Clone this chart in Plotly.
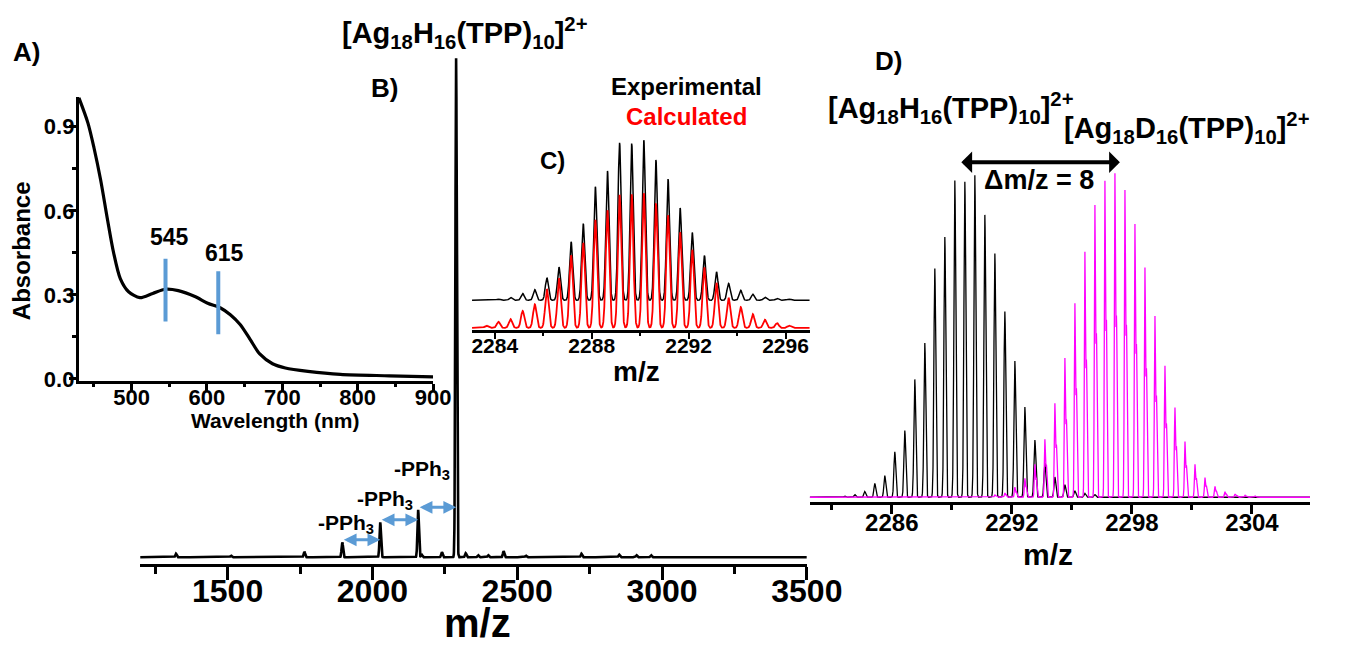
import numpy as np
import plotly.graph_objects as go

W, H = 1346, 659
FONT = "Liberation Sans, Arial, sans-serif"

# ---- A) UV-vis absorption spectrum ----
wavelength_nm = [430, 442, 450, 459, 468, 476, 485, 496, 511, 528, 545, 562, 584,
                 601, 618, 631, 644, 657, 670, 687, 704, 734, 777, 842, 900]
absorbance = [1.004, 0.914, 0.826, 0.709, 0.569, 0.452, 0.358, 0.311, 0.290, 0.305,
              0.320, 0.315, 0.294, 0.270, 0.253, 0.229, 0.194, 0.142, 0.089, 0.054,
              0.039, 0.027, 0.016, 0.011, 0.007]
band_nm = [545, 615]
band_low = [0.205, 0.159]
band_high = [0.429, 0.384]

# ---- B) full-range ESI mass spectrum (relative intensity, %) ----
ms_mz = [1322, 1512, 1765, 1896, 2027, 2158, 2170, 2240, 2289, 2322, 2365, 2400,
         2453, 2530, 2722, 2852, 2912, 2962]
ms_int = [0.7, 0.3, 1.1, 3.0, 7.0, 9.5, 0.5, 1.0, 100.0, 0.8, 0.4, 0.4,
          1.2, 0.3, 0.7, 0.5, 0.4, 0.4]
loss_mz = [1896, 2027, 2158, 2289]
loss_int = [3.0, 7.0, 9.5, 100.0]

# ---- C/D) isotope patterns of the 2+ ion ----
iso_mz_H = [2283.65, 2284.15, 2284.65, 2285.15, 2285.65, 2286.15, 2286.65, 2287.15,
            2287.65, 2288.15, 2288.65, 2289.15, 2289.65, 2290.15, 2290.65, 2291.15,
            2291.65, 2292.15, 2292.65, 2293.15, 2293.65, 2294.15, 2294.65, 2295.15,
            2295.65, 2296.15]
exp_H = [0.4, 0.8, 1.8, 4.3, 6.7, 14.1, 20.7, 36.6, 47.9, 71.0, 80.8, 98.4, 98.0,
         100.0, 87.7, 75.7, 57.7, 42.3, 28.0, 17.8, 10.6, 6.3, 3.9, 2.0, 1.2, 0.8]
calc_H = [1.7, 4.6, 6.6, 12.6, 17.5, 28.9, 36.9, 53.9, 63.1, 80.1, 87.4, 98.8, 99.3,
          100.0, 92.0, 83.7, 70.9, 58.0, 44.9, 33.5, 22.3, 15.5, 10.2, 6.1, 3.6, 1.7]
iso_mz_D = [2291.15, 2291.65, 2292.15, 2292.65, 2293.15, 2293.65, 2294.15, 2294.65,
            2295.15, 2295.65, 2296.15, 2296.65, 2297.15, 2297.65, 2298.15, 2298.65,
            2299.15, 2299.65, 2300.15, 2300.65, 2301.15, 2301.65, 2302.15, 2302.65,
            2303.15, 2303.65, 2304.15]
exp_D = [0.7, 1.3, 3.1, 5.8, 10.1, 17.7, 28.7, 42.5, 59.3, 75.0, 89.3, 96.7, 99.0,
         93.9, 83.5, 70.2, 55.4, 40.2, 27.4, 17.0, 10.1, 6.0, 3.3, 1.7, 1.0, 0.6, 0.4]


def profile(x, centers, heights, sigma, shoulder=0.0, shift=0.0, sigma2=None):
    """Sum of Gaussian line shapes, one per centroid."""
    y = np.zeros_like(x)
    for c, h in zip(centers, heights):
        y += h * np.exp(-0.5 * ((x - c) / sigma) ** 2)
        if shoulder:
            s2 = sigma2 or sigma
            y += shoulder * h * np.exp(-0.5 * ((x - c - shift) / s2) ** 2)
    return y


def px_x(p):
    return p / W


def px_y(p):
    return 1 - p / H


fig = go.Figure()

# A
fig.add_trace(go.Scatter(x=wavelength_nm, y=absorbance, mode="lines",
                         line=dict(color="black", width=3.2, shape="spline", smoothing=0.8),
                         xaxis="x", yaxis="y", hoverinfo="skip"))
for nm, lo, hi in zip(band_nm, band_low, band_high):
    fig.add_trace(go.Scatter(x=[nm, nm], y=[lo, hi], mode="lines",
                             line=dict(color="#5b9bd5", width=4),
                             xaxis="x", yaxis="y", hoverinfo="skip"))

# B
xb = np.arange(1198, 3500.01, 0.5)
fig.add_trace(go.Scatter(x=xb, y=profile(xb, ms_mz, ms_int, 2.5), mode="lines",
                         line=dict(color="black", width=2.6),
                         xaxis="x2", yaxis="y2", hoverinfo="skip"))

# C  (calculated drawn at full scale, experimental stacked above it)
EXP_OFFSET, EXP_SCALE = 20.5, 1.19
xc = np.linspace(2283.06, 2297.0, 4000)
fig.add_trace(go.Scatter(x=xc, y=EXP_OFFSET + EXP_SCALE * profile(xc, iso_mz_H, exp_H, 0.065),
                         mode="lines", line=dict(color="black", width=1.5),
                         xaxis="x3", yaxis="y3", hoverinfo="skip"))
fig.add_trace(go.Scatter(x=xc, y=profile(xc, iso_mz_H, calc_H, 0.07),
                         mode="lines", line=dict(color="#ff0000", width=1.8),
                         xaxis="x3", yaxis="y3", hoverinfo="skip"))

# D
xd = np.linspace(2281.9, 2306.9, 8000)
fig.add_trace(go.Scatter(x=xd, y=profile(xd, iso_mz_H, exp_H, 0.045), mode="lines",
                         line=dict(color="black", width=1.3),
                         xaxis="x4", yaxis="y4", hoverinfo="skip"))
fig.add_trace(go.Scatter(x=xd, y=profile(xd, iso_mz_D, exp_D, 0.028, shoulder=0.55,
                                          shift=0.08, sigma2=0.03),
                         mode="lines", line=dict(color="#ff00ff", width=1.3),
                         xaxis="x4", yaxis="y4", hoverinfo="skip"))


def xaxis_style(domain, rng, dtick, tick0, minor_dtick, ticklen, tickwidth, size, lw, standoff):
    return dict(domain=domain, range=rng, showline=True, linecolor="black", linewidth=lw,
                ticks="outside", ticklen=ticklen, tickwidth=tickwidth, tickcolor="black",
                tickmode="linear", dtick=dtick, tick0=tick0, ticklabelstandoff=standoff,
                minor=dict(ticks="outside", ticklen=ticklen * 0.55, tickwidth=tickwidth,
                           tickcolor="black", dtick=minor_dtick, tick0=tick0),
                tickfont=dict(family=FONT, size=size, color="black", weight="bold"),
                showgrid=False, zeroline=False, fixedrange=True)


def hidden_y(domain, rng, anchor):
    return dict(domain=domain, range=rng, visible=False, showgrid=False,
                zeroline=False, anchor=anchor, fixedrange=True)


layout = dict(
    width=W, height=H, margin=dict(l=0, r=0, t=0, b=0),
    paper_bgcolor="white", plot_bgcolor="rgba(0,0,0,0)", showlegend=False,
    xaxis=dict(xaxis_style([px_x(81), px_x(445)], [430, 900], 100, 500, 50, 7, 2.5, 22, 3, -12),
               anchor="y"),
    yaxis=dict(domain=[px_y(387), px_y(99)], range=[-0.006, 1.005], anchor="x",
               showline=True, linecolor="black", linewidth=3,
               ticks="outside", ticklen=7, tickwidth=2.5, tickcolor="black",
               tickmode="linear", tick0=0, dtick=0.3, tickformat=".1f",
               ticklabelstandoff=-10,
               minor=dict(ticks="outside", ticklen=4, tickwidth=2.5, tickcolor="black",
                          dtick=0.15, tick0=0),
               tickfont=dict(family=FONT, size=22, color="black", weight="bold"),
               showgrid=False, zeroline=False, fixedrange=True),
    xaxis2=dict(xaxis_style([px_x(144), px_x(829)], [1198, 3500], 500, 1500, 250, 13, 3, 32, 3, -16),
                anchor="y2"),
    yaxis2=hidden_y([px_y(573.3), px_y(55)], [-1.3, 100.85], "x2"),
    xaxis3=dict(xaxis_style([px_x(485), px_x(832)], [2283.06, 2297.0], 4, 2284, 2, 6, 2, 21, 2.5, -11),
                anchor="y3"),
    yaxis3=hidden_y([px_y(336), px_y(140)], [-1.83, 141.4], "x3"),
    xaxis4=dict(xaxis_style([px_x(832), 1.0], [2281.9, 2306.9], 6, 2286, 3, 9, 2.5, 24, 3, -12),
                anchor="y4"),
    yaxis4=hidden_y([px_y(511), px_y(150)], [-1.62, 108.6], "x4"),
)


def label(text, x, y, size, color="black", angle=0):
    return dict(text=text, x=px_x(x), y=px_y(y), xref="paper", yref="paper",
                showarrow=False, textangle=angle, xanchor="center", yanchor="middle",
                font=dict(family=FONT, size=size, color=color, weight="bold"))


ion_H = "[Ag<sub>18</sub>H<sub>16</sub>(TPP)<sub>10</sub>]<sup>2+</sup>"
ion_D = "[Ag<sub>18</sub>D<sub>16</sub>(TPP)<sub>10</sub>]<sup>2+</sup>"
loss = "-PPh<sub>3</sub>"

annotations = [
    label("A)", 27, 53, 26),
    label("B)", 395, 90, 26),
    label("C)", 568, 163, 24),
    label("D)", 913, 62, 26),
    label(ion_H, 478, 34, 29),
    label(ion_H, 977, 110, 29),
    label(ion_D, 1220, 130, 29),
    label("Δm/z = 8", 1068, 183, 27),
    label("Experimental", 705, 88, 24),
    label("Calculated", 705, 118, 24, color="#ff0000"),
    label("Absorbance", 22, 255, 24, angle=-90),
    label("Wavelength (nm)", 283, 428, 21),
    label("545", 174, 241, 23),
    label("615", 231, 257, 23),
    label(loss, 355, 533, 21),
    label(loss, 396, 508, 21),
    label(loss, 434, 478, 21),
    label("m/z", 491, 634, 40),
    label("m/z", 654, 378, 28),
    label("m/z", 1077, 564, 30),
]

# blue double arrows between successive PPh3-loss peaks
for i in range(3):
    annotations.append(dict(
        x=loss_mz[i + 1], y=loss_int[i] + 0.5, ax=loss_mz[i], ay=loss_int[i] + 0.5,
        xref="x2", yref="y2", axref="x2", ayref="y2", text="", showarrow=True,
        arrowside="end+start", arrowhead=2, startarrowhead=2, arrowsize=0.85,
        startarrowsize=0.85, arrowwidth=3, arrowcolor="#5b9bd5", standoff=0,
        startstandoff=0))

# black double arrow marking the H/D shift
annotations.append(dict(
    x=2297.4, y=104.0, ax=2289.4, ay=104.0, xref="x4", yref="y4", axref="x4", ayref="y4",
    text="", showarrow=True, arrowside="end+start", arrowhead=1, startarrowhead=1,
    arrowsize=0.9, startarrowsize=0.9, arrowwidth=4, arrowcolor="black",
    standoff=0, startstandoff=0))

layout["annotations"] = annotations
fig.update_layout(**layout)
fig.write_html("out.html")
